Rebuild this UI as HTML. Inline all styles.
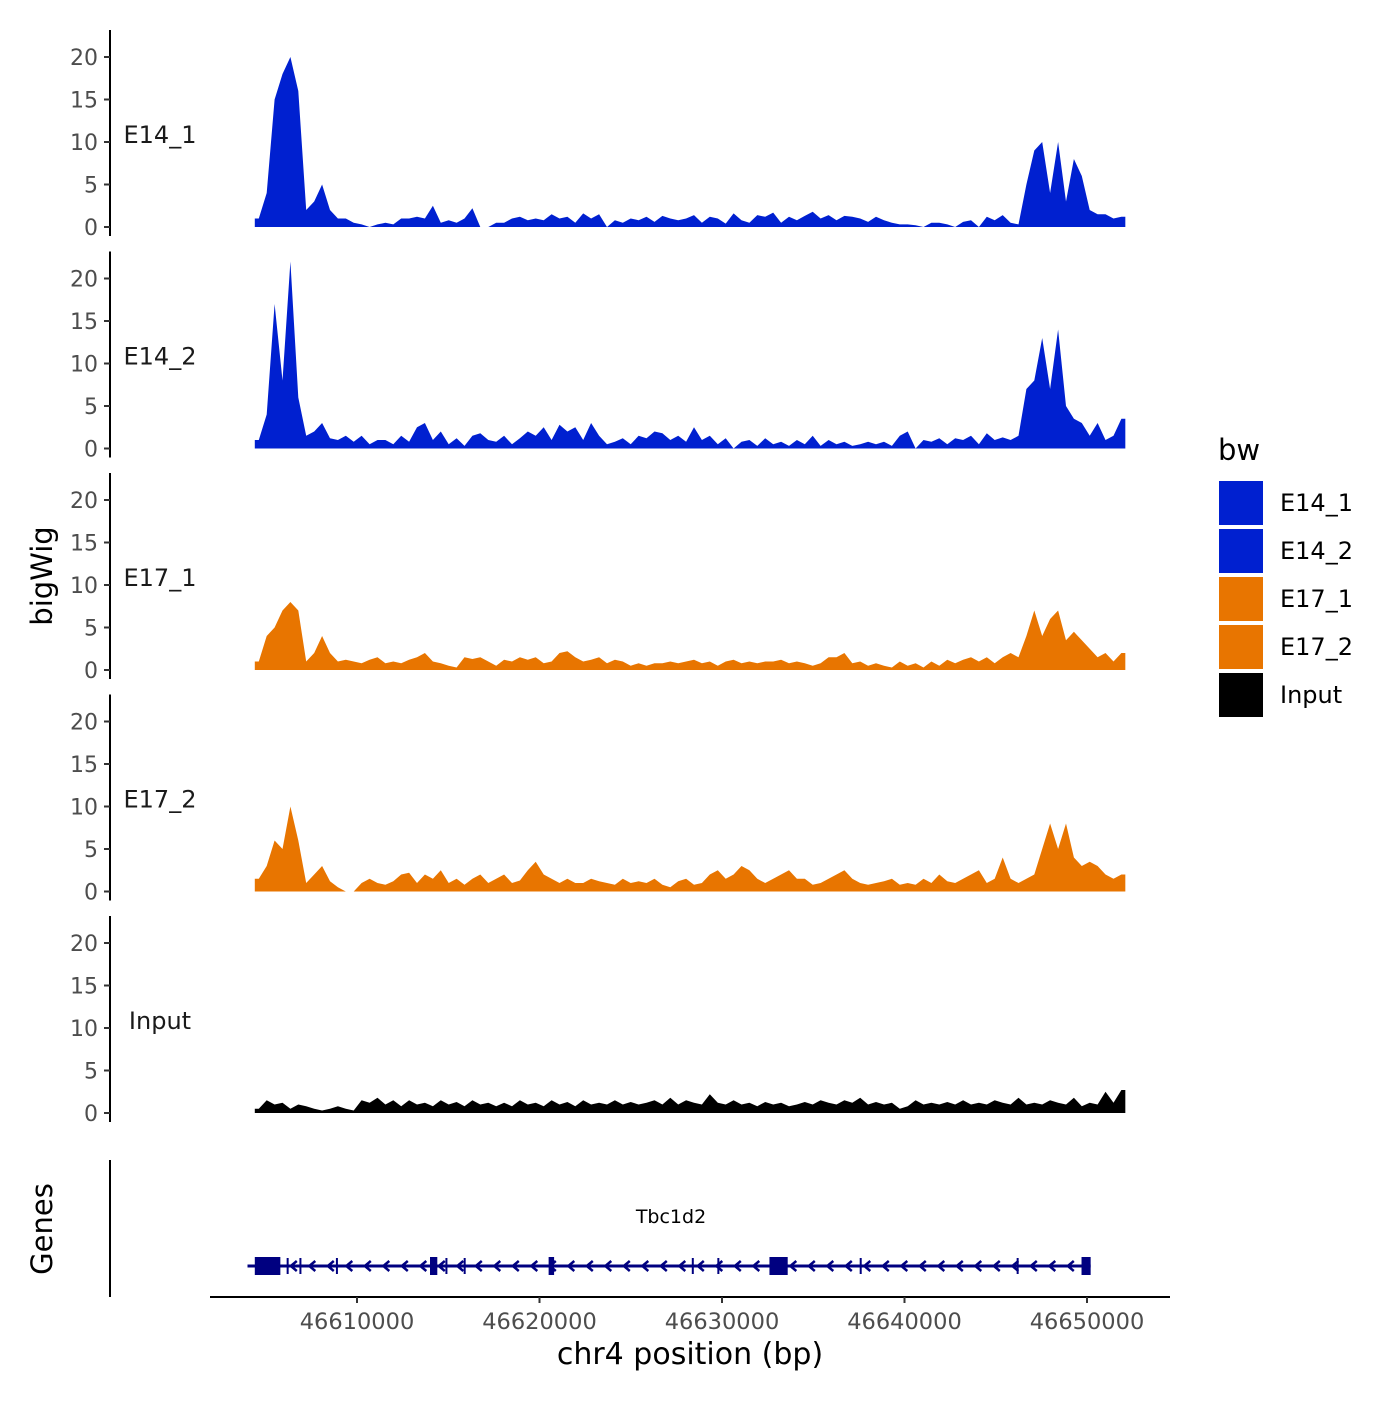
<!DOCTYPE html>
<html><head><meta charset="utf-8"><style>
body{margin:0;background:#fff}
text{font-family:"DejaVu Sans","Liberation Sans",sans-serif}
</style></head><body>
<svg id="c" width="1400" height="1400" xmlns="http://www.w3.org/2000/svg"></svg>
<script>
const trackNames=["E14_1","E14_2","E17_1","E17_2","Input"];
const trackColors=["#0020D0","#0020D0","#E87500","#E87500","#000000"];
const yTicks=[0,5,10,15,20];
const xTicks=[46610000,46620000,46630000,46640000,46650000];
const xTickLabels=["46610000","46620000","46630000","46640000","46650000"];
const binStart=46604400, binEnd=46652100, nBins=110;
const e14_1=[1,4,15,18,20,16,2,3,5,2,1,1,0.5,0.3,0,0.3,0.5,0.3,1,1,1.2,1,2.5,0.5,0.8,0.5,1,2.2,0,0,0.5,0.5,1,1.2,0.8,1,0.8,1.5,1,1.2,0.5,1.6,1,1.5,0,0.8,0.5,1,0.8,1.2,0.6,1.3,1,0.8,1,1.4,0.5,1.2,1,0.4,1.6,0.8,0.5,1.4,1.2,1.7,0.5,1.2,0.8,1.3,1.8,1,1.4,0.8,1.3,1.2,1,0.6,1.2,0.8,0.5,0.3,0.3,0.2,0,0.5,0.5,0.3,0,0.6,0.8,0,1.2,0.8,1.4,0.5,0.3,5,9,10,4,10,3,8,6,2,1.5,1.5,1,1.2];
const e14_2=[1,4,17,8,22,6,1.5,2,3,1.2,1,1.5,0.8,1.5,0.5,1,1,0.5,1.5,0.8,2.5,3,1,2,0.5,1.2,0.3,1.5,1.8,1,0.8,1.5,0.5,1.2,2,1.5,2.5,1,2.8,2,2.5,1,3,1.5,0.5,0.8,1.2,0.5,1.5,1.2,2,1.8,1,1.5,0.8,2.5,1,1.5,0.5,1.2,0,0.8,1,0.3,1.2,0.5,0.8,0.3,1,0.5,1.5,0.3,1,0.5,0.8,0.3,0.5,0.8,0.5,0.8,0.3,1.5,2,0,1,0.8,1.2,0.5,1.2,1,1.5,0.5,1.8,1,1.3,1,1.5,7,8,13,7,14,5,3.5,3,1.5,3,1,1.5,3.5];
const e17_1=[1,4,5,7,8,7,1,2,4,2,1,1.2,1,0.8,1.2,1.5,0.8,1,0.8,1.2,1.5,2,1,0.8,0.5,0.3,1.5,1.3,1.5,1,0.5,1.2,1,1.5,1.2,1.5,0.8,1,2,2.2,1.5,1,1.2,1.5,0.8,1.2,1,0.5,0.8,0.5,0.8,0.8,1,0.8,1,1.2,0.8,1,0.5,1,1.2,0.8,1,0.8,1,1,1.2,0.8,1,0.8,0.5,0.8,1.5,1.5,2,0.8,1,0.5,0.8,0.5,0.3,1,0.5,0.8,0.3,1,0.5,1.2,0.8,1.2,1.5,1,1.5,0.8,1.5,2,1.5,4,7,4,6,7,3.5,4.5,3.5,2.5,1.5,2,1,2];
const e17_2=[1.5,3,6,5,10,6,1,2,3,1.2,0.5,0,0,1,1.5,1,0.8,1.2,2,2.2,1,2,1.5,2.5,1,1.5,0.8,1.5,2,1,1.5,2,1,1.3,2.5,3.5,2,1.5,1,1.5,1,1,1.5,1.2,1,0.8,1.5,1,1.2,1,1.5,0.8,0.5,1.2,1.5,0.8,1,2,2.5,1.5,2,3,2.5,1.5,1,1.5,2,2.5,1.5,1.5,0.8,1,1.5,2,2.5,1.5,1,0.8,1,1.2,1.5,0.8,1,0.8,1.5,1,2,1.2,1,1.5,2,2.5,1,1.5,4,1.5,1,1.5,2,5,8,5,8,4,3,3.5,3,2,1.5,2];
const input=[0.5,1.5,1,1.2,0.5,1,0.8,0.5,0.3,0.5,0.8,0.5,0.3,1.5,1.2,1.8,1,1.5,0.8,1.5,1,1.2,0.8,1.5,1,1.3,0.8,1.5,1,1.2,0.8,1.2,0.8,1.5,1,1.2,0.8,1.5,1,1.3,0.8,1.5,1,1.2,1,1.5,1,1.3,1,1.2,1.5,1,1.8,1,1.5,1.2,1,2.2,1.2,1,1.5,1,1.2,0.8,1.3,1,1.2,0.8,1,1.3,1,1.5,1.2,1,1.5,1.2,1.8,1,1.3,1,1.2,0.5,0.8,1.5,1,1.2,1,1.3,1,1.5,1,1.2,1,1.5,1.2,1,1.8,1,1.2,1,1.5,1.2,1,1.8,0.8,1.2,1,2.5,1.2,2.7];
const trackData=[e14_1,e14_2,e17_1,e17_2,input];
const exonStarts=[46604400,46614000,46620500,46632600,46649700];
const exonEnds=[46605800,46614400,46620800,46633600,46650200];
const intronTicks=[46606200,46606900,46608900,46614900,46615900,46628400,46629800,46637600,46646200];

const NS="http://www.w3.org/2000/svg";
const svg=document.getElementById("c");
function mk(tag,attrs,parent){const e=document.createElementNS(NS,tag);for(const k in attrs)e.setAttribute(k,attrs[k]);(parent||svg).appendChild(e);return e;}
const xS=v=>357+(v-46610000)*730/40000;
const bs=8.5;
trackData.forEach((vals,t)=>{
  const y0=227+t*221.5;
  const yS=v=>y0-v*bs;
  const g=mk("g",{});
  
  
  const step=(binEnd-binStart)/vals.length;
  let d="M"+xS(binStart)+","+y0+" L"+xS(binStart)+","+yS(vals[0]).toFixed(1);
  vals.forEach((v,i)=>{d+=" L"+xS(binStart+i*step+step/2).toFixed(1)+","+yS(v).toFixed(1);});
  d+=" L"+xS(binEnd)+","+yS(vals[vals.length-1]).toFixed(1)+" L"+xS(binEnd)+","+y0+"Z";
  const p=mk("path",{d:d,fill:trackColors[t]},g);
  
  
  const ax=mk("line",{x1:110,x2:110,y1:y0-197,y2:y0+9,stroke:"#000","stroke-width":2},g);
  
  
  yTicks.forEach(v=>{
    mk("line",{x1:104,x2:110,y1:yS(v),y2:yS(v),stroke:"#333","stroke-width":2},g);
    const tx=mk("text",{x:98,y:yS(v)+8,"text-anchor":"end","font-size":22,fill:"#4d4d4d"},g);
    tx.textContent=v;
    
    
  });
  const lb=mk("text",{x:160,y:yS(10)+1,"text-anchor":"middle","font-size":24,fill:"#1a1a1a"},g);
  lb.textContent=trackNames[t];
  
  
});
// gene track
const gg=mk("g",{});


mk("line",{x1:110,x2:110,y1:1160,y2:1297,stroke:"#000","stroke-width":2},gg);
mk("line",{x1:xS(46604000),x2:xS(46650200),y1:1266,y2:1266,stroke:"#000080","stroke-width":3},gg);
for(let x=xS(46604400)+38;x<xS(46650000);x+=18.5){
  mk("path",{d:`M${x+4},1261 L${x-2},1266 L${x+4},1271`,stroke:"#000080","stroke-width":2.5,fill:"none"},gg);
}
exonStarts.forEach((s,i)=>{
  const r=mk("rect",{x:xS(s),y:1257,width:Math.max(4,xS(exonEnds[i])-xS(s)),height:18,fill:"#000080"},gg);
  
  
});
intronTicks.forEach(s=>mk("line",{x1:xS(s),x2:xS(s),y1:1258,y2:1274,stroke:"#000080","stroke-width":2},gg));
const gn=mk("text",{x:671,y:1223,"text-anchor":"middle","font-size":19,fill:"#000"},gg);
gn.textContent="Tbc1d2";


// x axis
const xa=mk("g",{});


mk("line",{x1:210,x2:1170,y1:1297,y2:1297,stroke:"#000","stroke-width":2},xa);
xTicks.forEach((v,i)=>{
  mk("line",{x1:xS(v),x2:xS(v),y1:1297,y2:1303,stroke:"#333","stroke-width":2},xa);
  const t=mk("text",{x:xS(v),y:1329,"text-anchor":"middle","font-size":22.5,fill:"#4d4d4d"},xa);
  t.textContent=xTickLabels[i];
  
  
});
const xt=mk("text",{x:690,y:1364,"text-anchor":"middle","font-size":30,fill:"#000"});
xt.textContent="chr4 position (bp)";


const yt=mk("text",{x:0,y:0,"text-anchor":"middle","font-size":29,fill:"#000",transform:"translate(52,576) rotate(-90)"});
yt.textContent="bigWig";


const gt=mk("text",{x:0,y:0,"text-anchor":"middle","font-size":29,fill:"#000",transform:"translate(52,1229) rotate(-90)"});
gt.textContent="Genes";


// legend
const lg=mk("g",{});


const lt=mk("text",{x:1218,y:460,"font-size":29,fill:"#000"},lg);
lt.textContent="bw";
trackNames.forEach((n,i)=>{
  const y=481+i*48;
  const r=mk("rect",{x:1219,y:y,width:44,height:44,fill:trackColors[i]},lg);
  
  
  const t=mk("text",{x:1280,y:y+30,"font-size":24,fill:"#000"},lg);
  t.textContent=n;
  
  
});
</script>
</body></html>
